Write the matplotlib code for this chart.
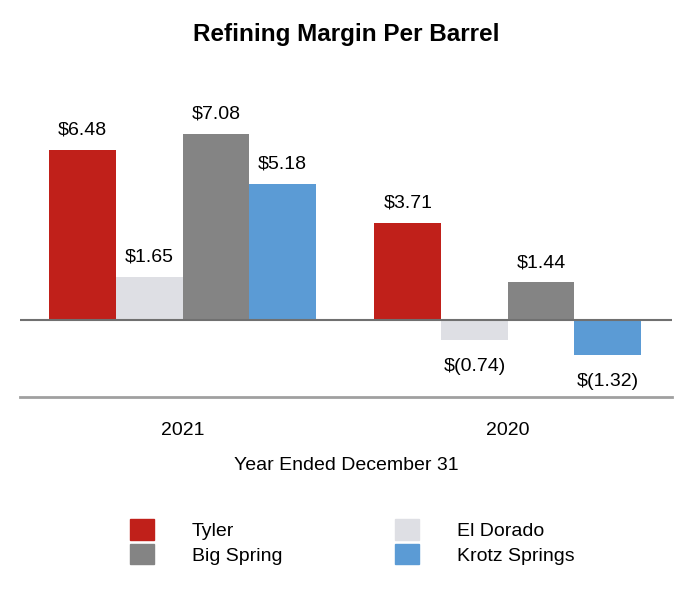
import numpy as np
import matplotlib.pyplot as plt
from matplotlib.patches import Patch

plt.rcParams['font.family'] = ['Liberation Sans', 'DejaVu Sans']

years = ['2021', '2020']
refineries = ['Tyler', 'El Dorado', 'Big Spring', 'Krotz Springs']
margins = {
  'Tyler': [6.48, 3.71],
  'El Dorado': [1.65, -0.74],
  'Big Spring': [7.08, 1.44],
  'Krotz Springs': [5.18, -1.32],
}
colors = ['#C0201A', '#DEDFE4', '#848484', '#5B9BD5']

def fmt(v):
  if v < 0:
    return '$(%.2f)' % abs(v)
  return '$%.2f' % v

fs = 14

fig = plt.figure(figsize=(6.92, 6.0), dpi=100)
ax = fig.add_axes([0.029, 0.338, 0.942, 0.479])

x = np.arange(len(years))
width = 0.205
for i, name in enumerate(refineries):
  pos = x + (i - 1.5) * width
  vals = margins[name]
  ax.bar(pos, vals, width, color=colors[i], zorder=2)
  for px, v in zip(pos, vals):
    if v >= 0:
      ax.annotate(fmt(v), (px, v), xytext=(0, 8), textcoords='offset points',
                  ha='center', va='bottom', fontsize=fs)
    else:
      ax.annotate(fmt(v), (px, v), xytext=(0, -13), textcoords='offset points',
                  ha='center', va='top', fontsize=fs)

ax.axhline(0, color='#707070', lw=1.5, zorder=3)
ax.set_xlim(-0.5, 1.505)
ax.set_ylim(-2.93, 8.0)
ax.set_yticks([])
ax.set_xticks(x)
ax.set_xticklabels(years, fontsize=fs)
ax.tick_params(axis='x', length=0, pad=18)
for s in ['top', 'left', 'right']:
  ax.spines[s].set_visible(False)
ax.spines['bottom'].set_color('#A0A0A0')
ax.spines['bottom'].set_linewidth(2)
ax.set_xlabel('Year Ended December 31', fontsize=fs, labelpad=13)

fig.text(0.5, 0.942, 'Refining Margin Per Barrel', ha='center', va='center',
         fontsize=17.5, fontweight='bold')

order = [0, 2, 1, 3]
handles = [Patch(color=colors[i], label=refineries[i]) for i in order]
fig.legend(handles=handles, ncol=2, loc='center', bbox_to_anchor=(0.509, 0.097),
           frameon=False, fontsize=fs, handlelength=1.25, handleheight=1.25,
           handletextpad=1.95, columnspacing=5.8, labelspacing=0.2)

fig.savefig('out.png', dpi=100)
